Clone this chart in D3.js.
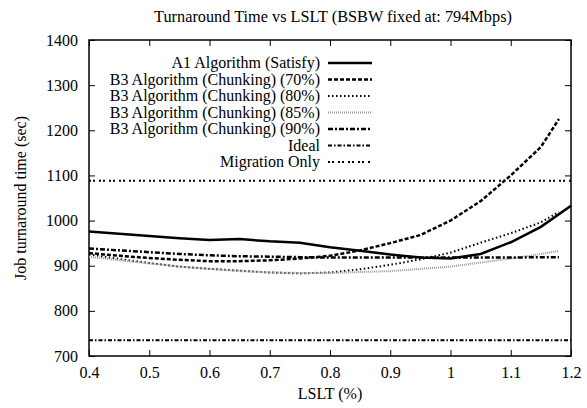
<!DOCTYPE html>
<html>
<head>
<meta charset="UTF-8">
<style>
  body { margin: 0; background: #fff; }
  #chart text { font-family: "Liberation Serif", serif; }
</style>
</head>
<body>
<svg id="chart"></svg>
<script src="https://d3js.org/d3.v7.min.js"></script>
<script>
// ---- data
const xB3 = [0.4, 0.45, 0.5, 0.55, 0.6, 0.65, 0.7, 0.75, 0.8, 0.85, 0.9, 0.95, 1.0, 1.05, 1.1, 1.15, 1.18];
const xA1 = [0.4, 0.45, 0.5, 0.55, 0.6, 0.65, 0.7, 0.75, 0.8, 0.85, 0.9, 0.95, 1.0, 1.05, 1.1, 1.15, 1.2];
const a1   = [976, 971, 966, 961, 957, 959, 954, 951, 941, 933, 925, 918, 916, 926, 952, 986, 1033];
const b370 = [928, 922, 917, 913, 910, 910, 912, 916, 922, 934, 950, 968, 1000, 1043, 1100, 1163, 1225];
const b380 = [925, 915, 906, 898, 893, 889, 885, 883, 885, 892, 902, 914, 929, 951, 972, 996, 1019];
const b385 = [920, 912, 905, 898, 893, 888, 885, 884, 884, 886, 888, 893, 898, 907, 916, 926, 933];
const b390 = [938, 934, 930, 926, 923, 921, 920, 919, 918, 918, 918, 918, 918, 918, 918, 919, 919];
const xFlat = [0.4, 1.2];
const ideal = [735, 735];
const migration = [1088, 1088];

const xTicks = [0.4, 0.5, 0.6, 0.7, 0.8, 0.9, 1, 1.1, 1.2];
const yTicks = [700, 800, 900, 1000, 1100, 1200, 1300, 1400];

const W = 587, H = 408;
const m = {left: 89, right: 16, top: 40, bottom: 52};

const svg = d3.select("#chart").attr("width", W).attr("height", H);

const x = d3.scaleLinear().domain([0.4, 1.2]).range([m.left, W - m.right]);
const y = d3.scaleLinear().domain([700, 1400]).range([H - m.bottom, m.top]);

// title + axis labels
svg.append("text").attr("x", 333).attr("y", 22).attr("text-anchor", "middle")
  .style("font-size", "16.3px").text("Turnaround Time vs LSLT (BSBW fixed at: 794Mbps)");
svg.append("text").attr("x", (m.left + W - m.right) / 2).attr("y", 399).attr("text-anchor", "middle")
  .style("font-size", "16px").text("LSLT (%)");
svg.append("text").attr("transform", "translate(26," + ((m.top + H - m.bottom) / 2) + ") rotate(-90)")
  .attr("text-anchor", "middle").style("font-size", "16px").text("Job turnaround time (sec)");

// axes with inward ticks, mirrored on top/right
const axB = svg.append("g").attr("transform", "translate(0," + y(700) + ")")
  .call(d3.axisBottom(x).tickValues(xTicks).tickFormat(d => String(d)).tickSize(-6).tickPadding(11));
const axT = svg.append("g").attr("transform", "translate(0," + y(1400) + ")")
  .call(d3.axisTop(x).tickValues(xTicks).tickFormat("").tickSize(-6));
const axL = svg.append("g").attr("transform", "translate(" + x(0.4) + ",0)")
  .call(d3.axisLeft(y).tickValues(yTicks).tickFormat(d3.format("d")).tickSize(-6).tickPadding(11));
const axR = svg.append("g").attr("transform", "translate(" + x(1.2) + ",0)")
  .call(d3.axisRight(y).tickValues(yTicks).tickFormat("").tickSize(-6));
[axB, axT, axL, axR].forEach(g => {
  g.select(".domain").remove();
  g.selectAll("line").attr("stroke", "#000").attr("stroke-width", 1);
  g.selectAll("text").attr("fill", "#000").style("font-size", "16px");
});
svg.append("rect").attr("x", x(0.4)).attr("y", y(1400))
  .attr("width", x(1.2) - x(0.4)).attr("height", y(700) - y(1400))
  .attr("fill", "none").attr("stroke", "#000").attr("stroke-width", 1.5);

const series = [
  {name: "A1 Algorithm (Satisfy)", xs: xA1, ys: a1, color: "#000", w: 2.5, dash: null},
  {name: "B3 Algorithm (Chunking) (70%)", xs: xB3, ys: b370, color: "#000", w: 2.5, dash: "4,2"},
  {name: "B3 Algorithm (Chunking) (80%)", xs: xB3, ys: b380, color: "#000", w: 2, dash: "1.5,2.5"},
  {name: "B3 Algorithm (Chunking) (85%)", xs: xB3, ys: b385, color: "#999", w: 2, dash: "1,1"},
  {name: "B3 Algorithm (Chunking) (90%)", xs: xB3, ys: b390, color: "#000", w: 2.5, dash: "5,2,2,2"},
  {name: "Ideal", xs: xFlat, ys: ideal, color: "#000", w: 2, dash: "4,2,1.5,2"},
  {name: "Migration Only", xs: xFlat, ys: migration, color: "#000", w: 2, dash: "2,2,2,4"}
];

const line = d3.line().x(d => x(d[0])).y(d => y(d[1]));
const plot = svg.append("g");
series.forEach(s => {
  plot.append("path").datum(d3.zip(s.xs, s.ys)).attr("d", line)
    .attr("fill", "none").attr("stroke", s.color).attr("stroke-width", s.w)
    .attr("stroke-dasharray", s.dash);
});

// key
const key = svg.append("g");
series.forEach((s, i) => {
  const ky = 63 + i * 16.5;
  key.append("text").attr("x", 320).attr("y", ky).attr("dy", "0.33em")
    .attr("text-anchor", "end").style("font-size", "16px").text(s.name);
  key.append("line").attr("x1", 328).attr("x2", 372).attr("y1", ky).attr("y2", ky)
    .attr("stroke", s.color).attr("stroke-width", s.w).attr("stroke-dasharray", s.dash);
});
</script>
</body>
</html>
